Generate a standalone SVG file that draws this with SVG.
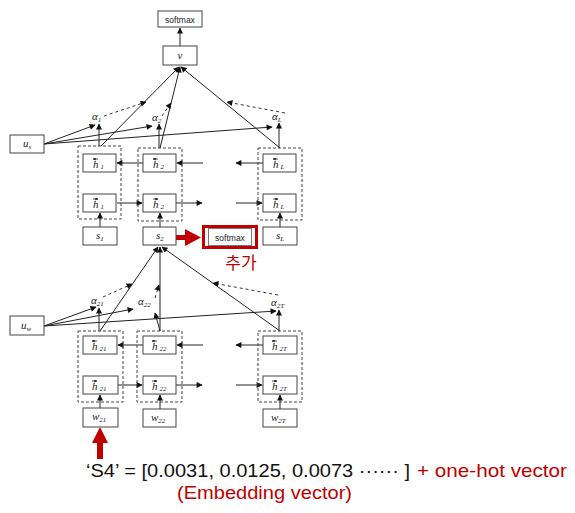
<svg xmlns="http://www.w3.org/2000/svg" width="575" height="513" viewBox="0 0 575 513">
<defs>
<marker id="ah" viewBox="0 0 10 10" refX="9" refY="5" markerWidth="7" markerHeight="6" markerUnits="userSpaceOnUse" orient="auto">
<path d="M0,0 L10,5 L0,10 z" fill="#111"/>
</marker>
<marker id="sa" viewBox="0 0 10 10" refX="9" refY="5" markerWidth="3" markerHeight="3" markerUnits="userSpaceOnUse" orient="auto">
<path d="M0,0 L10,5 L0,10 z" fill="#222"/>
</marker>
<style>
.bx{fill:#fff;stroke:#444;stroke-width:1}
.db{fill:none;stroke:#444;stroke-width:1;stroke-dasharray:3,2}
.ln{stroke:#222;stroke-width:1;fill:none;marker-end:url(#ah)}
.dl{stroke:#333;stroke-width:1;fill:none;stroke-dasharray:3,3;marker-end:url(#ah)}
.hv{stroke:#222;stroke-width:0.8;fill:none;marker-end:url(#sa)}
.sf{font-family:"Liberation Sans",Arial,sans-serif;font-size:8.5px;fill:#222;text-anchor:middle}
.m{font-family:"Liberation Serif","DejaVu Serif",serif;font-style:italic;font-size:11px;fill:#222}
.sb{font-size:7px}
.red{fill:#C00000}
.kt{font-family:"Noto Sans CJK KR","Noto Sans",sans-serif}
.cp{font-family:"Liberation Sans",Arial,sans-serif;font-size:19px}
</style>
</defs>

<g id="connectors">
<!-- upper -->
<line class="ln" x1="180" y1="46" x2="180" y2="28"/>
<line class="ln" x1="99" y1="146" x2="99" y2="124"/>
<line class="ln" x1="159" y1="148" x2="159" y2="124"/>
<line class="ln" x1="279" y1="148" x2="279" y2="123"/>
<line class="ln" x1="44" y1="144" x2="95" y2="125"/>
<line class="ln" x1="44" y1="144" x2="152" y2="126"/>
<line class="ln" x1="44" y1="144" x2="272" y2="127"/>
<line class="ln" x1="101" y1="146" x2="179" y2="67"/>
<line class="ln" x1="160" y1="148" x2="180" y2="67"/>
<line class="ln" x1="280" y1="148" x2="181" y2="67"/>
<line class="dl" x1="104" y1="116" x2="146" y2="102"/>
<line class="dl" x1="162" y1="116" x2="171" y2="103"/>
<line class="dl" x1="285" y1="113" x2="227" y2="102"/>
<line class="ln" x1="143" y1="163" x2="117" y2="163"/>
<line class="ln" x1="203" y1="163" x2="177" y2="163"/>
<line class="ln" x1="263" y1="163" x2="236" y2="163"/>
<line class="ln" x1="117" y1="203" x2="142" y2="203"/>
<line class="ln" x1="176" y1="203" x2="202" y2="203"/>
<line class="ln" x1="236" y1="203" x2="262" y2="203"/>
<line class="ln" x1="100" y1="227" x2="100" y2="213"/>
<line class="ln" x1="160" y1="227" x2="160" y2="213"/>
<line class="ln" x1="280" y1="227" x2="280" y2="213"/>
<!-- lower -->
<line class="ln" x1="99" y1="331" x2="99" y2="308"/>
<line class="ln" x1="160" y1="331" x2="155" y2="313"/>
<line class="ln" x1="279" y1="331" x2="279" y2="310"/>
<line class="ln" x1="44" y1="326" x2="96" y2="307"/>
<line class="ln" x1="44" y1="326" x2="133" y2="309"/>
<line class="ln" x1="44" y1="326" x2="276" y2="311"/>
<line class="ln" x1="100" y1="331" x2="158" y2="247"/>
<line class="ln" x1="160" y1="331" x2="160" y2="247"/>
<line class="ln" x1="280" y1="331" x2="162" y2="247"/>
<line class="dl" x1="103" y1="297" x2="132" y2="284"/>
<line class="dl" x1="155" y1="298" x2="159" y2="285"/>
<line class="dl" x1="278" y1="295" x2="213" y2="283"/>
<line class="ln" x1="143" y1="345" x2="118" y2="345"/>
<line class="ln" x1="203" y1="345" x2="177" y2="345"/>
<line class="ln" x1="263" y1="345" x2="236" y2="345"/>
<line class="ln" x1="118" y1="385" x2="142" y2="385"/>
<line class="ln" x1="176" y1="385" x2="202" y2="385"/>
<line class="ln" x1="236" y1="385" x2="262" y2="385"/>
<line class="ln" x1="100" y1="408" x2="100" y2="395"/>
<line class="ln" x1="160" y1="409" x2="160" y2="395"/>
<line class="ln" x1="280" y1="409" x2="280" y2="395"/>
<!-- red arrows -->
<rect class="red" x="176" y="235" width="11" height="5"/>
<polygon class="red" points="185,229 201,237.5 185,246"/>
<polygon class="red" points="100,427 92,443 108,443"/>
<rect class="red" x="97" y="442" width="6" height="17"/>
</g>

<!-- dashed groups -->
<g id="grp1"><rect class="db" x="78" y="146" width="43" height="73"/></g>
<g id="grp2"><rect class="db" x="138" y="148" width="44" height="73"/></g>
<g id="grpL"><rect class="db" x="258" y="148" width="44" height="72"/></g>
<g id="grp21"><rect class="db" x="78" y="331" width="45" height="71"/></g>
<g id="grp22"><rect class="db" x="137" y="331" width="45" height="71"/></g>
<g id="grp2T"><rect class="db" x="258" y="331" width="44" height="71"/></g>

<g id="softmax_top"><rect class="bx" x="158" y="11" width="44" height="16"/><text class="sf" x="180" y="22.5">softmax</text></g>
<g id="v"><rect class="bx" x="163" y="46" width="34" height="19"/><text class="m" x="180" y="59" text-anchor="middle">v</text></g>
<g id="us"><rect class="bx" x="10" y="135" width="34" height="18"/><text class="m" x="23" y="147">u<tspan class="sb" dy="1.5">s</tspan></text></g>

<g id="alpha1"><text class="m" x="92" y="120">α<tspan class="sb" dy="1.5">1</tspan></text></g>
<g id="alpha2"><text class="m" x="152" y="121">α<tspan class="sb" dy="1.5">2</tspan></text></g>
<g id="alphaL"><text class="m" x="272" y="120">α<tspan class="sb" dy="1.5">L</tspan></text></g>

<g id="hb1"><rect class="bx" x="83" y="154" width="33" height="18"/><line class="hv" x1="98" y1="159" x2="93" y2="159"/><text class="m" x="93" y="168">h<tspan class="sb" dx="2" dy="1">1</tspan></text></g>
<g id="hb2"><rect class="bx" x="143" y="154" width="33" height="18"/><line class="hv" x1="158" y1="159" x2="153" y2="159"/><text class="m" x="153" y="168">h<tspan class="sb" dx="2" dy="1">2</tspan></text></g>
<g id="hbL"><rect class="bx" x="263" y="154" width="33" height="18"/><line class="hv" x1="278" y1="159" x2="273" y2="159"/><text class="m" x="273" y="168">h<tspan class="sb" dx="2" dy="1">L</tspan></text></g>
<g id="hf1"><rect class="bx" x="83" y="194" width="33" height="18"/><line class="hv" x1="93" y1="199" x2="98" y2="199"/><text class="m" x="93" y="208">h<tspan class="sb" dx="2" dy="1">1</tspan></text></g>
<g id="hf2"><rect class="bx" x="143" y="194" width="33" height="18"/><line class="hv" x1="153" y1="199" x2="158" y2="199"/><text class="m" x="153" y="208">h<tspan class="sb" dx="2" dy="1">2</tspan></text></g>
<g id="hfL"><rect class="bx" x="263" y="194" width="33" height="18"/><line class="hv" x1="273" y1="199" x2="278" y2="199"/><text class="m" x="273" y="208">h<tspan class="sb" dx="2" dy="1">L</tspan></text></g>

<g id="s1"><rect class="bx" x="83" y="227" width="34" height="18"/><text class="m" x="96" y="239">s<tspan class="sb" dy="1.5">1</tspan></text></g>
<g id="s2"><rect class="bx" x="143" y="227" width="33" height="18"/><text class="m" x="156" y="239">s<tspan class="sb" dy="1.5">2</tspan></text></g>
<g id="sL"><rect class="bx" x="263" y="227" width="34" height="18"/><text class="m" x="276" y="239">s<tspan class="sb" dy="1.5">L</tspan></text></g>

<g id="softmax_new">
<rect x="203.5" y="226.5" width="53" height="21" fill="none" stroke="#C00000" stroke-width="3"/>
<rect x="208.5" y="228.5" width="43" height="17" fill="#fff" stroke="#777" stroke-width="1"/>
<text class="sf" x="230" y="240.5">softmax</text>
</g>
<g id="label_add"><text class="kt red" x="241" y="269" font-size="17" text-anchor="middle">추가</text></g>

<g id="uw"><rect class="bx" x="10" y="316" width="34" height="19"/><text class="m" x="21" y="329">u<tspan class="sb" dy="1.5">w</tspan></text></g>

<g id="alpha21"><text class="m" x="91" y="304">α<tspan class="sb" dy="1.5">21</tspan></text></g>
<g id="alpha22"><text class="m" x="138" y="305">α<tspan class="sb" dy="1.5">22</tspan></text></g>
<g id="alpha2T"><text class="m" x="271" y="306">α<tspan class="sb" dy="1.5">2T</tspan></text></g>

<g id="hb21"><rect class="bx" x="83" y="336" width="34" height="18"/><line class="hv" x1="97" y1="341" x2="92" y2="341"/><text class="m" x="92" y="350">h<tspan class="sb" dx="2" dy="1">21</tspan></text></g>
<g id="hb22"><rect class="bx" x="143" y="336" width="33" height="18"/><line class="hv" x1="157" y1="341" x2="152" y2="341"/><text class="m" x="152" y="350">h<tspan class="sb" dx="2" dy="1">22</tspan></text></g>
<g id="hb2T"><rect class="bx" x="263" y="336" width="34" height="18"/><line class="hv" x1="277" y1="341" x2="272" y2="341"/><text class="m" x="272" y="350">h<tspan class="sb" dx="2" dy="1">2T</tspan></text></g>
<g id="hf21"><rect class="bx" x="83" y="376" width="35" height="18"/><line class="hv" x1="92" y1="381" x2="97" y2="381"/><text class="m" x="92" y="390">h<tspan class="sb" dx="2" dy="1">21</tspan></text></g>
<g id="hf22"><rect class="bx" x="143" y="376" width="33" height="18"/><line class="hv" x1="152" y1="381" x2="157" y2="381"/><text class="m" x="152" y="390">h<tspan class="sb" dx="2" dy="1">22</tspan></text></g>
<g id="hf2T"><rect class="bx" x="263" y="376" width="34" height="18"/><line class="hv" x1="272" y1="381" x2="277" y2="381"/><text class="m" x="272" y="390">h<tspan class="sb" dx="2" dy="1">2T</tspan></text></g>

<g id="w21"><rect class="bx" x="83" y="408" width="35" height="19"/><text class="m" x="92" y="420">w<tspan class="sb" dy="1.5">21</tspan></text></g>
<g id="w22"><rect class="bx" x="143" y="409" width="33" height="18"/><text class="m" x="151" y="421">w<tspan class="sb" dy="1.5">22</tspan></text></g>
<g id="w2T"><rect class="bx" x="263" y="409" width="34" height="18"/><text class="m" x="271" y="421">w<tspan class="sb" dy="1.5">2T</tspan></text></g>

<g id="caption">
<text class="cp" x="86" y="477" fill="#111" textLength="324" lengthAdjust="spacingAndGlyphs">‘S4’ = [0.0031, 0.0125, 0.0073 ······ ]</text>
<text class="cp red" x="417" y="477" textLength="150" lengthAdjust="spacingAndGlyphs">+ one-hot vector</text>
<text class="cp red" x="177" y="498.5" textLength="175" lengthAdjust="spacingAndGlyphs">(Embedding vector)</text>
</g>
</svg>
